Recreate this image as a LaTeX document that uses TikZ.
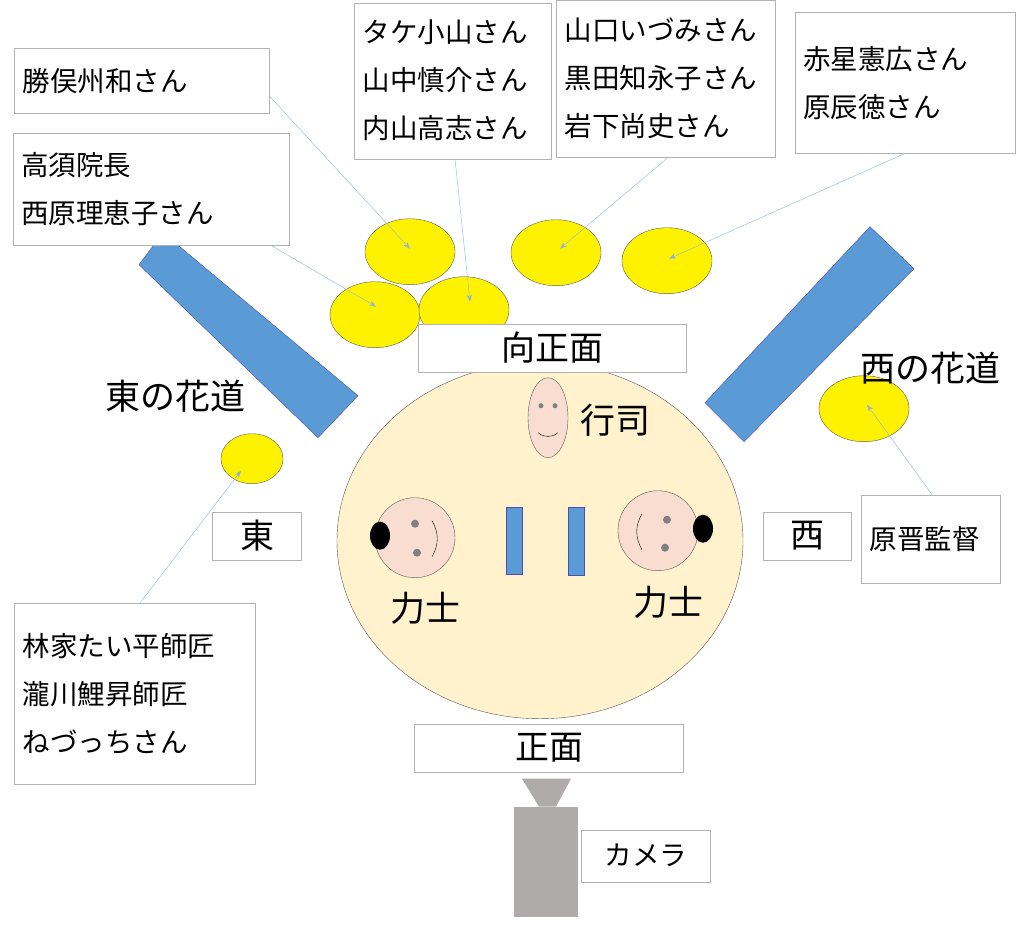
\documentclass[tikz,border=0pt]{standalone}
\usepackage{fontspec}
\setmainfont{Noto Sans CJK JP}
\definecolor{ring}{RGB}{255,242,204}
\definecolor{barblue}{RGB}{91,155,213}
\definecolor{face}{RGB}{248,221,208}
\definecolor{cam}{RGB}{175,171,171}
\definecolor{lineblue}{RGB}{140,180,225}
\tikzset{
  box/.style={draw=gray!60, fill=white, inner sep=8pt, align=left, font=\fontsize{27.5}{48}\selectfont},
  tag/.style={box, font=\fontsize{34}{40}\selectfont},
  seat/.style={draw=gray!70!black, fill=yellow, ellipse},
  pointer/.style={draw=lineblue, thin, -{Stealth[length=7pt,width=5pt]}},
  bigtext/.style={font=\fontsize{35}{40}\selectfont}
}
\usetikzlibrary{shapes.geometric,arrows.meta}
\begin{document}
\begin{tikzpicture}[x=1pt,y=-1pt]
\fill[white] (0,0) rectangle (1024,924);
% dohyo
\draw[fill=ring, draw=gray!70!black] (540,540) ellipse [x radius=203, y radius=178];
% hanamichi
\fill[barblue, draw=gray!60!blue] (139,264) -- (163,232) -- (358,395) -- (318,437) -- cycle;
\fill[barblue, draw=gray!60!blue] (870,226) -- (914,268) -- (744,441) -- (705,402) -- cycle;
% seats
\node[seat, minimum width=90, minimum height=66] (s1) at (410,251) {};
\node[seat, minimum width=90, minimum height=66] (s2) at (375,314) {};
\node[seat, minimum width=90, minimum height=66] (s3) at (464,309) {};
\node[seat, minimum width=90, minimum height=66] (s4) at (556,252) {};
\node[seat, minimum width=90, minimum height=66] (s5) at (667,260) {};
\node[seat, minimum width=62, minimum height=50] (s6) at (252,458) {};
\node[seat, minimum width=90, minimum height=66] (s7) at (864,408) {};
% labels
\node[tag, minimum width=268, minimum height=48] (muko) at (552,347) {向正面};
\node[tag, minimum width=269, minimum height=48] (shomen) at (549,747) {正面};
\node[tag, minimum width=89, minimum height=48] (higashi) at (257,535) {東};
\node[tag, minimum width=88, minimum height=48] (nishi) at (807,535) {西};
\node[box, minimum width=129, minimum height=52] (camera) at (646,855) {カメラ};
\node[box, minimum width=255, minimum height=65, text width=239] (b1) at (142,80) {勝俣州和さん};
\node[box, minimum width=276, minimum height=112, text width=260] (b2) at (151,188) {高須院長\\西原理恵子さん};
\node[box, minimum width=197, minimum height=156, text width=181] (b3) at (453,80) {タケ小山さん\\山中慎介さん\\内山高志さん};
\node[box, minimum width=219, minimum height=157, text width=203] (b4) at (666,78) {山口いづみさん\\黒田知永子さん\\岩下尚史さん};
\node[box, minimum width=220, minimum height=141, text width=204] (b5) at (905,82) {赤星憲広さん\\原辰徳さん};
\node[box, minimum width=139, minimum height=88, text width=123] (b6) at (931,538) {原晋監督};
\node[box, minimum width=241, minimum height=181, text width=225] (b7) at (135,693) {林家たい平師匠\\瀧川鯉昇師匠\\ねづっちさん};
\node[bigtext] (hhana) at (175,395) {東の花道};
\node[bigtext] (nhana) at (930,367) {西の花道};
% gyoji
\node[ellipse, draw=gray!70!black, fill=face, minimum width=40, minimum height=80] (gyoji) at (548,417) {};
\fill[gray] (541,405) circle (2.5) (555,405) circle (2.5);
\draw (538,432) to[bend right=40] (558,432);
\node[bigtext] (gyojitext) at (615,420) {行司};
% rikishi
\node[circle, draw=gray!70!black, fill=face, minimum size=80] (r1) at (415,537) {};
\fill (380,535) ellipse [x radius=10, y radius=14];
\fill[gray] (415,523) circle (4) (417,552) circle (4);
\draw (432,520) to[bend left=30] (432,556);
\node[bigtext] (r1text) at (425,608) {力士};
\node[circle, draw=gray!70!black, fill=face, minimum size=80] (r2) at (658,530) {};
\fill (703,528) ellipse [x radius=10, y radius=14];
\fill[gray] (667,519) circle (4) (665,547) circle (4);
\draw (642,513) to[bend right=30] (642,549);
\node[bigtext] (r2text) at (668,602) {力士};
\fill[barblue, draw=gray!60!blue] (506,506) rectangle (522,573);
\fill[barblue, draw=gray!60!blue] (568,506) rectangle (584,574);
% camera
\fill[cam] (522,778) -- (571,778) -- (556,806) -- (539,806) -- cycle;
\fill[cam] (514,806) rectangle (578,916);
% pointers
\coordinate (t1) at (410,248);
\coordinate (t2) at (376,306);
\coordinate (t3) at (470,301);
\coordinate (t4) at (560,248);
\coordinate (t5) at (669,258);
\coordinate (t6) at (241,470);
\coordinate (t7) at (867,404);
\draw[pointer] (b1.south east) ++(0,-17) -- (t1);
\draw[pointer] (b2.south east) ++(-19,0) -- (t2);
\draw[pointer] (b3.south) ++(2,0) -- (t3);
\draw[pointer] (b4.south) ++(2,0) -- (t4);
\draw[pointer] (b5.south) ++(0,0) -- (t5);
\draw[pointer] (b7.north) ++(5,0) -- (t6);
\draw[pointer] (b6.north) ++(1,0) -- (t7);
\end{tikzpicture}
\end{document}
